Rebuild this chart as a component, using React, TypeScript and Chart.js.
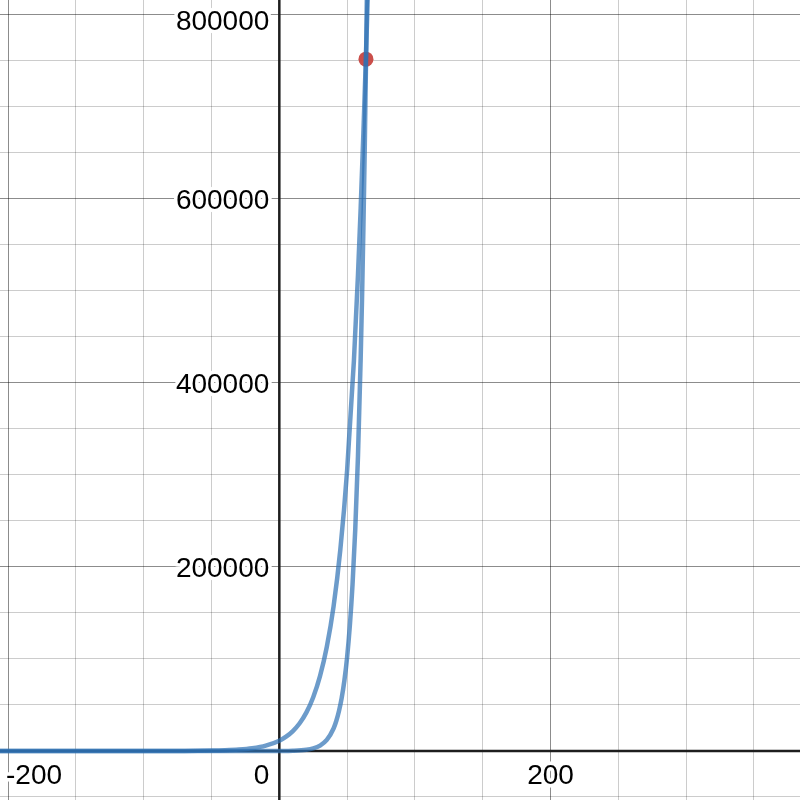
import React, { useEffect, useRef } from "react";
import { Chart, registerables } from "chart.js";

Chart.register(...registerables);

// View window
const xMin = -206;
const xMax = 384;
const yMin = -53261;
const yMax = 816304;

// Grid lines and tick labels
const xGrid = [-200, -150, -100, -50, 0, 50, 100, 150, 200, 250, 300, 350];
const yGrid = [-50000, 0, 50000, 100000, 150000, 200000, 250000, 300000, 350000, 400000, 450000, 500000, 550000, 600000, 650000, 700000, 750000, 800000];
const xTickLabels = [-200, 0, 200];
const yTickLabels = [200000, 400000, 600000, 800000];

// Wider (slower) exponential curve
const curveAX = [-206, -150, -100, -70, -50, -40, -30, -20, -10, 0, 5, 10, 15, 20, 25, 30, 35, 40, 45, 50, 55, 58, 60, 62, 64, 66];
const curveAY = [0, 1, 15, 113, 420, 810, 1560, 3000, 5800, 11200, 15600, 21700, 30200, 42000, 58500, 81400, 113000, 157000, 219000, 305000, 424000, 517000, 590000, 672000, 760000, 860000];

// Steeper curve
const curveBX = [-206, -100, -50, -10, 0, 10, 20, 25, 30, 35, 40, 42, 44, 46, 48, 50, 52, 54, 56, 58, 60, 61, 62, 63, 64, 65];
const curveBY = [0, 0, 1, 19, 81, 336, 1400, 2870, 5870, 12000, 24500, 32600, 43400, 57700, 76800, 102000, 136000, 181000, 241000, 320000, 427000, 492000, 568000, 655000, 756000, 872000];

// Highlighted point
const pointX = [63.9];
const pointY = [752000];

const LINE_BLUE = "rgba(45,112,179,0.7)";
const POINT_RED = "rgba(199,68,64,0.95)";
const FONT = "28px 'Liberation Sans', Arial, sans-serif";

const toXY = (xs: number[], ys: number[]) => xs.map((x, i) => ({ x, y: ys[i] }));

const gridColor = (major: number) => (ctx: any) => {
  const v = ctx.tick && ctx.tick.value;
  if (v === undefined) return "rgba(0,0,0,0)";
  if (Math.abs(v) < 1e-9) return "rgba(0,0,0,0)";
  return Math.abs(v % major) < 1e-9 ? "rgba(0,0,0,0.45)" : "rgba(0,0,0,0.2)";
};

const axesPlugin = {
  id: "desmosAxes",
  beforeDatasetsDraw(chart: any) {
    const { ctx, chartArea, scales } = chart;
    const x0 = scales.x.getPixelForValue(0);
    const y0 = scales.y.getPixelForValue(0);
    ctx.save();
    ctx.strokeStyle = "#1e1e1e";
    ctx.lineWidth = 2.5;
    ctx.beginPath();
    ctx.moveTo(chartArea.left, y0);
    ctx.lineTo(chartArea.right, y0);
    ctx.moveTo(x0, chartArea.top);
    ctx.lineTo(x0, chartArea.bottom);
    ctx.stroke();

    ctx.font = FONT;
    ctx.lineJoin = "round";
    ctx.textBaseline = "alphabetic";
    const capH = 20;
    const drawLabel = (text: string, x: number, y: number, align: CanvasTextAlign) => {
      ctx.textAlign = align;
      ctx.strokeStyle = "#ffffff";
      ctx.lineWidth = 7;
      ctx.strokeText(text, x, y);
      ctx.fillStyle = "#000000";
      ctx.fillText(text, x, y);
    };
    // y labels
    yTickLabels.forEach((v) => {
      const py = scales.y.getPixelForValue(v);
      const base = Math.max(py + capH / 2, chartArea.top + 9.5 + capH);
      drawLabel(String(v), x0 - 10, base, "right");
    });
    // x labels
    xTickLabels.forEach((v) => {
      const px = scales.x.getPixelForValue(v);
      const base = y0 + 33;
      if (v === 0) {
        drawLabel("0", x0 - 10, base, "right");
        return;
      }
      const text = String(v);
      const w = ctx.measureText(text).width;
      let cx = px;
      if (cx - w / 2 < chartArea.left + 6) cx = chartArea.left + 6 + w / 2;
      if (cx + w / 2 > chartArea.right - 6) cx = chartArea.right - 6 - w / 2;
      drawLabel(text, cx, base, "center");
    });
    ctx.restore();
  },
};

export default function App() {
  const ref = useRef<HTMLCanvasElement | null>(null);
  useEffect(() => {
    if (!ref.current) return;
    const chart = new Chart(ref.current, {
      type: "line",
      data: {
        datasets: [
          {
            data: toXY(curveAX, curveAY),
            borderColor: LINE_BLUE,
            borderWidth: 4.5,
            pointRadius: 0,
            cubicInterpolationMode: "monotone",
            fill: false,
          },
          {
            data: toXY(curveBX, curveBY),
            borderColor: LINE_BLUE,
            borderWidth: 4.5,
            pointRadius: 0,
            cubicInterpolationMode: "monotone",
            fill: false,
          },
          {
            data: toXY(pointX, pointY),
            showLine: false,
            pointRadius: 7.5,
            pointBackgroundColor: POINT_RED,
            pointBorderWidth: 0,
            pointBorderColor: POINT_RED,
          },
        ],
      } as any,
      options: {
        animation: false,
        responsive: false,
        maintainAspectRatio: false,
        layout: { padding: 0, autoPadding: false },
        plugins: { legend: { display: false }, tooltip: { enabled: false } },
        events: [],
        scales: {
          x: {
            type: "linear",
            min: xMin,
            max: xMax,
            afterBuildTicks: (scale: any) => {
              scale.ticks = xGrid.map((v) => ({ value: v }));
            },
            ticks: { display: false },
            grid: { drawTicks: false, color: gridColor(200), lineWidth: 1 },
            border: { display: false },
          },
          y: {
            type: "linear",
            min: yMin,
            max: yMax,
            afterBuildTicks: (scale: any) => {
              scale.ticks = yGrid.map((v) => ({ value: v }));
            },
            ticks: { display: false },
            grid: { drawTicks: false, color: gridColor(200000), lineWidth: 1 },
            border: { display: false },
          },
        },
      } as any,
      plugins: [axesPlugin],
    });
    return () => chart.destroy();
  }, []);
  return (
    <div style={{ position: "fixed", left: 0, top: 0, width: 800, height: 800, background: "#fff" }}>
      <canvas ref={ref} width={800} height={800} style={{ display: "block", width: 800, height: 800 }} />
    </div>
  );
}
